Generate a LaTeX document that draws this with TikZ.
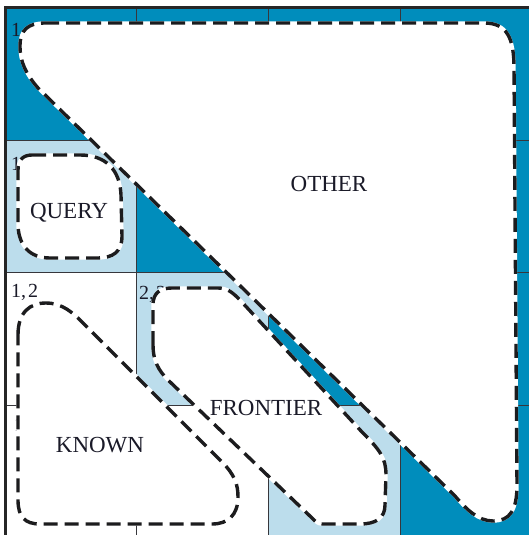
\documentclass[tikz,border=0pt]{standalone}
\usepackage{fontspec}
\setmainfont{Liberation Serif}
\definecolor{deepcell}{RGB}{0,141,188}
\definecolor{palecell}{RGB}{188,221,236}
\definecolor{gridc}{RGB}{55,55,60}
\definecolor{dashc}{RGB}{28,28,30}
\definecolor{labelc}{RGB}{26,26,40}
\begin{document}
\begin{tikzpicture}[x=1pt,y=-1pt,
  region/.style={fill=white, draw=dashc, line width=3.4pt,
    dash pattern=on 14pt off 7pt,
    preaction={draw=white, solid, line width=3.4pt}},
  gridline/.style={draw=gridc, line width=1pt},
  frameline/.style={draw=black!85, line width=3pt},
  biglabel/.style={text=labelc, inner sep=0pt, anchor=base,
    font=\fontsize{23}{26}\selectfont},
  celllabel/.style={text=labelc, inner sep=0pt, anchor=base west,
    font=\fontsize{20}{22}\selectfont}]
\useasboundingbox (0,0) rectangle (529,535);
\begin{scope}
  \clip (0,0) rectangle (529,535);
  % cell colours: on/above the diagonal dark, first sub-diagonal light
  \def\xs{{5,136.7,268.3,400,531.7}}
  \def\ys{{8,140,272.5,405,537}}
  \foreach \r in {0,...,3}{
    \foreach \c in {0,...,3}{
      \pgfmathsetmacro\xa{\xs[\c]}
      \pgfmathsetmacro\xb{\xs[\c+1]}
      \pgfmathsetmacro\ya{\ys[\r]}
      \pgfmathsetmacro\yb{\ys[\r+1]}
      \ifnum\c<\r
        \pgfmathtruncatemacro\d{\r-\c}
        \ifnum\d=1
          \fill[palecell] (\xa,\ya) rectangle (\xb,\yb);
        \fi
      \else
        \fill[deepcell] (\xa,\ya) rectangle (\xb,\yb);
      \fi
    }
  }
  % grid
  \foreach \x in {136.7,268.3,400,531.7}
    \draw[gridline] (\x,8) -- (\x,540);
  \foreach \y in {140,272.5,405,537}
    \draw[gridline] (5,\y) -- (535,\y);
  \draw[frameline] (5,540) -- (5,8) -- (535,8);
\end{scope}

% cell index labels
\node[celllabel] (l00) at (11,37) {1};
\node[celllabel] (l10) at (11,170) {1};
\node[celllabel] (l20) at (11,297) {1,\kern2pt2};
\node[celllabel] (l21) at (139,299) {2,\kern2pt2};
\node[celllabel] (l30) at (14,431) {1};

% regions
\path[region] (45,23) -- (484,23) .. controls (507,23) and (514,38) .. (514,68)
  -- (517,485) .. controls (517,510) and (510,521) .. (493,521)
  .. controls (478,521) and (466,509) .. (455,496)
  -- (38,88) .. controls (26,74) and (20,62) .. (20,46)
  .. controls (20,30) and (28,23) .. (45,23) -- cycle;

\path[region] (32,155) -- (80,155) .. controls (106,155) and (120,170) .. (121,195)
  -- (122,236) .. controls (122,252) and (113,258) .. (97,258)
  -- (50,258) .. controls (30,258) and (19,246) .. (18,226)
  -- (18,170) .. controls (18,160) and (23,155) .. (32,155) -- cycle;

\path[region] (18,335) .. controls (18,312) and (30,303) .. (46,303)
  .. controls (58,303) and (68,308) .. (80,320)
  -- (222,462) .. controls (235,475) and (238,485) .. (238,497)
  .. controls (238,515) and (228,524) .. (212,524)
  -- (40,524) .. controls (25,524) and (18,517) .. (18,500) -- cycle;

\path[region] (153,345) -- (153,305) .. controls (153,293) and (160,288) .. (172,288)
  -- (218,288) .. controls (228,288) and (233,293) .. (240,300)
  -- (362,432) .. controls (380,450) and (386,458) .. (386,475)
  -- (385,505) .. controls (385,518) and (376,524) .. (360,524)
  -- (322,524) .. controls (318,524) and (316,522) .. (312,518)
  -- (168,380) .. controls (158,370) and (153,360) .. (153,345) -- cycle;

% region names
\node[biglabel] (other) at (329,191) {OTHER};
\node[biglabel] (query) at (69,218) {QUERY};
\node[biglabel] (frontier) at (266,415) {FRONTIER};
\node[biglabel] (known) at (100,452) {KNOWN};
\end{tikzpicture}
\end{document}
